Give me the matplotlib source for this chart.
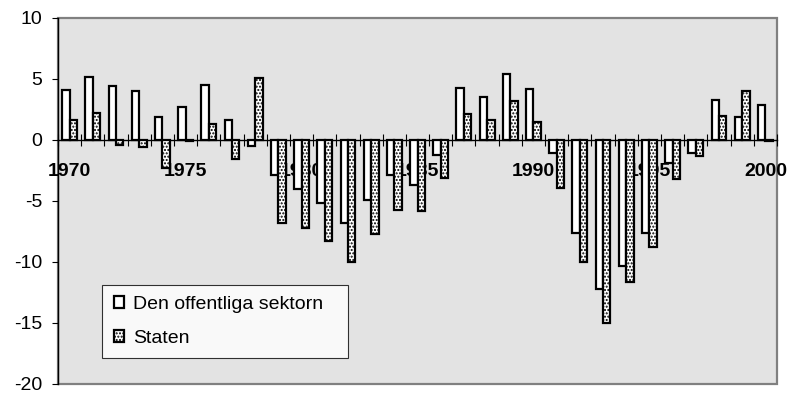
import numpy as np
import matplotlib
matplotlib.use("Agg")
import matplotlib.pyplot as plt

plt.rcParams['font.family'] = ['Liberation Sans', 'DejaVu Sans']
plt.rcParams['axes.unicode_minus'] = False
plt.rcParams['hatch.linewidth'] = 1.0

years = list(range(1970, 2001))
offentliga = [4.1, 5.2, 4.4, 4.0, 1.9, 2.7, 4.5, 1.6, -0.5, -2.9,
              -4.0, -5.2, -6.8, -4.9, -2.9, -3.7, -1.2, 4.3, 3.5, 5.4,
              4.2, -1.1, -7.6, -12.2, -10.3, -7.6, -1.9, -1.1, 3.3, 1.9,
              2.9]
staten = [1.6, 2.2, -0.4, -0.6, -2.3, -0.1, 1.3, -1.6, 5.1, -6.8,
          -7.2, -8.3, -10.0, -7.7, -5.7, -5.8, -3.1, 2.1, 1.6, 3.2,
          1.5, -3.9, -10.0, -15.0, -11.6, -8.8, -3.2, -1.3, 2.0, 4.0,
          -0.1]
labelled_years = [1970, 1975, 1980, 1985, 1990, 1995, 2000]

fig = plt.figure(figsize=(7.87, 3.94), dpi=100)
ax = fig.add_axes([0.0737, 0.0254, 0.9136, 0.929])
ax.set_facecolor('#e3e3e3')
ax.patch.set_edgecolor('#808080')
ax.patch.set_linewidth(1.6)

x = np.arange(len(years))
w = 0.32
ax.bar(x - w / 2, offentliga, w, color='white', edgecolor='black',
       linewidth=1.6, zorder=3, label='Den offentliga sektorn')
ax.bar(x + w / 2, staten, w, color='white', edgecolor='black',
       linewidth=1.6, hatch='.....', zorder=3, label='Staten')

ax.set_xlim(-0.5, len(years) - 0.5)
ax.set_ylim(-20, 10)
ax.set_yticks(np.arange(-20, 11, 5))
ax.tick_params(axis='y', direction='out', length=4.5, width=0.8,
               labelsize=14, pad=7)

# x axis sits at zero, ticks between the years
ax.spines['bottom'].set_position(('data', 0))
ax.spines['bottom'].set_linewidth(1.0)
ax.spines['left'].set_linewidth(1.0)
ax.spines['top'].set_visible(False)
ax.spines['right'].set_visible(False)
ax.set_xticks(np.arange(-0.5, len(years), 1))
ax.set_xticklabels([])
ax.tick_params(axis='x', direction='inout', length=9, width=0.8)

# year labels go under the bars
for yr in labelled_years:
    ax.annotate(str(yr), xy=(years.index(yr), 0), xytext=(0, -23),
                textcoords='offset points', ha='center', va='center',
                fontsize=14, fontweight='bold', zorder=1)

leg = ax.legend(loc='lower left', bbox_to_anchor=(0.0612, 0.07, 0.342, 0.21),
                mode='expand', borderaxespad=0, fontsize=14, frameon=True,
                fancybox=False, handlelength=0.55, handleheight=0.55,
                handletextpad=0.45, labelspacing=0.85, borderpad=0.6)
leg.get_frame().set_edgecolor('black')
leg.get_frame().set_linewidth(0.8)
leg.set_zorder(5)

fig.savefig('out.png', dpi=100)
